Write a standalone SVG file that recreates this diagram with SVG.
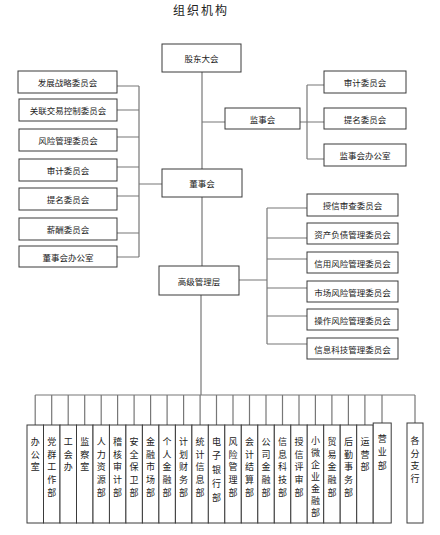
<svg xmlns="http://www.w3.org/2000/svg" width="440" height="535" viewBox="0 0 440 535">
<style>
.bg{fill:#ffffff}
.box{fill:#ffffff;stroke:#3a3a3a;stroke-width:1}
.ln{fill:none;stroke:#777777;stroke-width:1.2}
.t{font-family:"Noto Sans CJK SC","Noto Sans",sans-serif;font-size:8.5px;fill:#222222;text-anchor:middle;dominant-baseline:central}
.v{font-family:"Noto Sans CJK SC","Noto Sans",sans-serif;font-size:9px;fill:#222222;text-anchor:middle}
.title{font-family:"Noto Sans CJK SC","Noto Sans",sans-serif;font-size:12px;fill:#222222;text-anchor:middle;letter-spacing:2px}
</style>
<rect class="bg" x="0" y="0" width="440" height="535"/>
<text class="title" x="201" y="15">组织机构</text>

<g id="connectors">
<path class="ln" d="M202 72V169M202 122H225M202 197V266M201 295V395"/>
<path class="ln" d="M139 86V257M117 86H139M117 110H139M117 137H139M117 167H139M117 196H139M117 233H139M117 257H139M139 184H162"/>
<path class="ln" d="M307 85V159M300 122H324M307 85H324M307 159H324"/>
<path class="ln" d="M267 208V344M239 280H267M267 208H307M267 238H307M267 259H307M267 288H307M267 316H307M267 344H307"/>
<path class="ln" d="M35.2 395H415M35.2 395V425M51.7 395V425M68.2 395V425M84.7 395V425M101.2 395V425M117.6 395V425M134.1 395V425M150.6 395V425M167.1 395V425M183.6 395V425M200.1 395V425M216.5 395V425M233 395V425M249.5 395V425M266 395V425M282.5 395V425M299 395V425M315.4 395V425M331.9 395V425M348.4 395V425M364.9 395V425M382 395V423M415 395V423"/>
</g>

<g id="gudong"><rect class="box" x="162" y="44" width="79" height="28"/><text class="t" x="201.5" y="58">股东大会</text></g>
<g id="dongshihui"><rect class="box" x="162" y="169" width="80" height="28"/><text class="t" x="202" y="183">董事会</text></g>
<g id="jianshihui"><rect class="box" x="225" y="108" width="75" height="21"/><text class="t" x="262.5" y="118.5">监事会</text></g>
<g id="gaoguan"><rect class="box" x="159" y="266" width="80" height="29"/><text class="t" x="199" y="280.5">高级管理层</text></g>

<g id="l1"><rect class="box" x="18" y="71" width="99" height="22"/><text class="t" x="67.5" y="82">发展战略委员会</text></g>
<g id="l2"><rect class="box" x="19" y="99" width="98" height="22"/><text class="t" x="68" y="110">关联交易控制委员会</text></g>
<g id="l3"><rect class="box" x="19" y="129" width="98" height="22"/><text class="t" x="68" y="140">风险管理委员会</text></g>
<g id="l4"><rect class="box" x="19" y="159" width="98" height="22"/><text class="t" x="68" y="170">审计委员会</text></g>
<g id="l5"><rect class="box" x="19" y="188" width="98" height="22"/><text class="t" x="68" y="199">提名委员会</text></g>
<g id="l6"><rect class="box" x="19" y="218" width="98" height="22"/><text class="t" x="68" y="229">薪酬委员会</text></g>
<g id="l7"><rect class="box" x="19" y="246" width="98" height="21"/><text class="t" x="68" y="256.5">董事会办公室</text></g>

<g id="r1"><rect class="box" x="324" y="71" width="82" height="22"/><text class="t" x="365" y="82">审计委员会</text></g>
<g id="r2"><rect class="box" x="324" y="108" width="82" height="21"/><text class="t" x="365" y="118.5">提名委员会</text></g>
<g id="r3"><rect class="box" x="324" y="144" width="82" height="22"/><text class="t" x="365" y="155">监事会办公室</text></g>

<g id="m1"><rect class="box" x="307" y="194" width="91" height="22"/><text class="t" x="352.5" y="205">授信审查委员会</text></g>
<g id="m2"><rect class="box" x="307" y="223" width="91" height="21"/><text class="t" x="352.5" y="233.5">资产负债管理委员会</text></g>
<g id="m3"><rect class="box" x="307" y="252" width="91" height="21"/><text class="t" x="352.5" y="262.5">信用风险管理委员会</text></g>
<g id="m4"><rect class="box" x="307" y="281" width="91" height="21"/><text class="t" x="352.5" y="291.5">市场风险管理委员会</text></g>
<g id="m5"><rect class="box" x="307" y="309" width="91" height="21"/><text class="t" x="352.5" y="319.5">操作风险管理委员会</text></g>
<g id="m6"><rect class="box" x="307" y="338" width="91" height="21"/><text class="t" x="352.5" y="348.5">信息科技管理委员会</text></g>

<g id="d1"><rect class="box" x="27" y="425" width="16.5" height="98"/><text class="v" x="35.2" y="445"><tspan x="35.2">办</tspan><tspan x="35.2" dy="12.7">公</tspan><tspan x="35.2" dy="12.7">室</tspan></text></g>
<g id="d2"><rect class="box" x="43.5" y="425" width="16.5" height="98"/><text class="v" x="51.7" y="445"><tspan x="51.7">党</tspan><tspan x="51.7" dy="12.7">群</tspan><tspan x="51.7" dy="12.7">工</tspan><tspan x="51.7" dy="12.7">作</tspan><tspan x="51.7" dy="12.7">部</tspan></text></g>
<g id="d3"><rect class="box" x="60" y="425" width="16.5" height="98"/><text class="v" x="68.2" y="445"><tspan x="68.2">工</tspan><tspan x="68.2" dy="12.7">会</tspan><tspan x="68.2" dy="12.7">办</tspan></text></g>
<g id="d4"><rect class="box" x="76.5" y="425" width="16.5" height="98"/><text class="v" x="84.7" y="445"><tspan x="84.7">监</tspan><tspan x="84.7" dy="12.7">察</tspan><tspan x="84.7" dy="12.7">室</tspan></text></g>
<g id="d5"><rect class="box" x="93" y="425" width="16.5" height="98"/><text class="v" x="101.2" y="445"><tspan x="101.2">人</tspan><tspan x="101.2" dy="12.7">力</tspan><tspan x="101.2" dy="12.7">资</tspan><tspan x="101.2" dy="12.7">源</tspan><tspan x="101.2" dy="12.7">部</tspan></text></g>
<g id="d6"><rect class="box" x="109.4" y="425" width="16.5" height="98"/><text class="v" x="117.6" y="445"><tspan x="117.6">稽</tspan><tspan x="117.6" dy="12.7">核</tspan><tspan x="117.6" dy="12.7">审</tspan><tspan x="117.6" dy="12.7">计</tspan><tspan x="117.6" dy="12.7">部</tspan></text></g>
<g id="d7"><rect class="box" x="125.9" y="425" width="16.5" height="98"/><text class="v" x="134.1" y="445"><tspan x="134.1">安</tspan><tspan x="134.1" dy="12.7">全</tspan><tspan x="134.1" dy="12.7">保</tspan><tspan x="134.1" dy="12.7">卫</tspan><tspan x="134.1" dy="12.7">部</tspan></text></g>
<g id="d8"><rect class="box" x="142.4" y="425" width="16.5" height="98"/><text class="v" x="150.6" y="445"><tspan x="150.6">金</tspan><tspan x="150.6" dy="12.7">融</tspan><tspan x="150.6" dy="12.7">市</tspan><tspan x="150.6" dy="12.7">场</tspan><tspan x="150.6" dy="12.7">部</tspan></text></g>
<g id="d9"><rect class="box" x="158.9" y="425" width="16.5" height="98"/><text class="v" x="167.1" y="445"><tspan x="167.1">个</tspan><tspan x="167.1" dy="12.7">人</tspan><tspan x="167.1" dy="12.7">金</tspan><tspan x="167.1" dy="12.7">融</tspan><tspan x="167.1" dy="12.7">部</tspan></text></g>
<g id="d10"><rect class="box" x="175.4" y="425" width="16.5" height="98"/><text class="v" x="183.6" y="445"><tspan x="183.6">计</tspan><tspan x="183.6" dy="12.7">划</tspan><tspan x="183.6" dy="12.7">财</tspan><tspan x="183.6" dy="12.7">务</tspan><tspan x="183.6" dy="12.7">部</tspan></text></g>
<g id="d11"><rect class="box" x="191.9" y="425" width="16.5" height="98"/><text class="v" x="200.1" y="445"><tspan x="200.1">统</tspan><tspan x="200.1" dy="12.7">计</tspan><tspan x="200.1" dy="12.7">信</tspan><tspan x="200.1" dy="12.7">息</tspan><tspan x="200.1" dy="12.7">部</tspan></text></g>
<g id="d12"><rect class="box" x="208.3" y="425" width="16.5" height="98"/><text class="v" x="216.5" y="445"><tspan x="216.5">电</tspan><tspan x="216.5" dy="14">子</tspan><tspan x="216.5" dy="14">银</tspan><tspan x="216.5" dy="14">行</tspan><tspan x="216.5" dy="14">部</tspan></text></g>
<g id="d13"><rect class="box" x="224.8" y="425" width="16.5" height="98"/><text class="v" x="233" y="445"><tspan x="233">风</tspan><tspan x="233" dy="12.7">险</tspan><tspan x="233" dy="12.7">管</tspan><tspan x="233" dy="12.7">理</tspan><tspan x="233" dy="12.7">部</tspan></text></g>
<g id="d14"><rect class="box" x="241.3" y="425" width="16.5" height="98"/><text class="v" x="249.5" y="445"><tspan x="249.5">会</tspan><tspan x="249.5" dy="12.7">计</tspan><tspan x="249.5" dy="12.7">结</tspan><tspan x="249.5" dy="12.7">算</tspan><tspan x="249.5" dy="12.7">部</tspan></text></g>
<g id="d15"><rect class="box" x="257.8" y="425" width="16.5" height="98"/><text class="v" x="266" y="445"><tspan x="266">公</tspan><tspan x="266" dy="12.7">司</tspan><tspan x="266" dy="12.7">金</tspan><tspan x="266" dy="12.7">融</tspan><tspan x="266" dy="12.7">部</tspan></text></g>
<g id="d16"><rect class="box" x="274.3" y="425" width="16.5" height="98"/><text class="v" x="282.5" y="445"><tspan x="282.5">信</tspan><tspan x="282.5" dy="12.7">息</tspan><tspan x="282.5" dy="12.7">科</tspan><tspan x="282.5" dy="12.7">技</tspan><tspan x="282.5" dy="12.7">部</tspan></text></g>
<g id="d17"><rect class="box" x="290.8" y="425" width="16.5" height="98"/><text class="v" x="299" y="445"><tspan x="299">授</tspan><tspan x="299" dy="12.7">信</tspan><tspan x="299" dy="12.7">评</tspan><tspan x="299" dy="12.7">审</tspan><tspan x="299" dy="12.7">部</tspan></text></g>
<g id="d18"><rect class="box" x="307.2" y="425" width="16.5" height="98"/><text class="v" x="315.4" y="444"><tspan x="315.4">小</tspan><tspan x="315.4" dy="12">微</tspan><tspan x="315.4" dy="12">企</tspan><tspan x="315.4" dy="12">业</tspan><tspan x="315.4" dy="12">金</tspan><tspan x="315.4" dy="12">融</tspan><tspan x="315.4" dy="12">部</tspan></text></g>
<g id="d19"><rect class="box" x="323.7" y="425" width="16.5" height="98"/><text class="v" x="331.9" y="445"><tspan x="331.9">贸</tspan><tspan x="331.9" dy="12.7">易</tspan><tspan x="331.9" dy="12.7">金</tspan><tspan x="331.9" dy="12.7">融</tspan><tspan x="331.9" dy="12.7">部</tspan></text></g>
<g id="d20"><rect class="box" x="340.2" y="425" width="16.5" height="98"/><text class="v" x="348.4" y="445"><tspan x="348.4">后</tspan><tspan x="348.4" dy="12.7">勤</tspan><tspan x="348.4" dy="12.7">事</tspan><tspan x="348.4" dy="12.7">务</tspan><tspan x="348.4" dy="12.7">部</tspan></text></g>
<g id="d21"><rect class="box" x="356.7" y="425" width="16.5" height="98"/><text class="v" x="364.9" y="445"><tspan x="364.9">运</tspan><tspan x="364.9" dy="12.7">营</tspan><tspan x="364.9" dy="12.7">部</tspan></text></g>
<g id="d22"><rect class="box" x="373.2" y="423" width="18" height="100"/><text class="v" x="382.2" y="442"><tspan x="382.2">营</tspan><tspan x="382.2" dy="13.3">业</tspan><tspan x="382.2" dy="13.3">部</tspan></text></g>
<g id="d23"><rect class="box" x="407" y="423" width="16" height="100"/><text class="v" x="415" y="444"><tspan x="415">各</tspan><tspan x="415" dy="12.7">分</tspan><tspan x="415" dy="12.7">支</tspan><tspan x="415" dy="12.7">行</tspan></text></g>
</svg>
